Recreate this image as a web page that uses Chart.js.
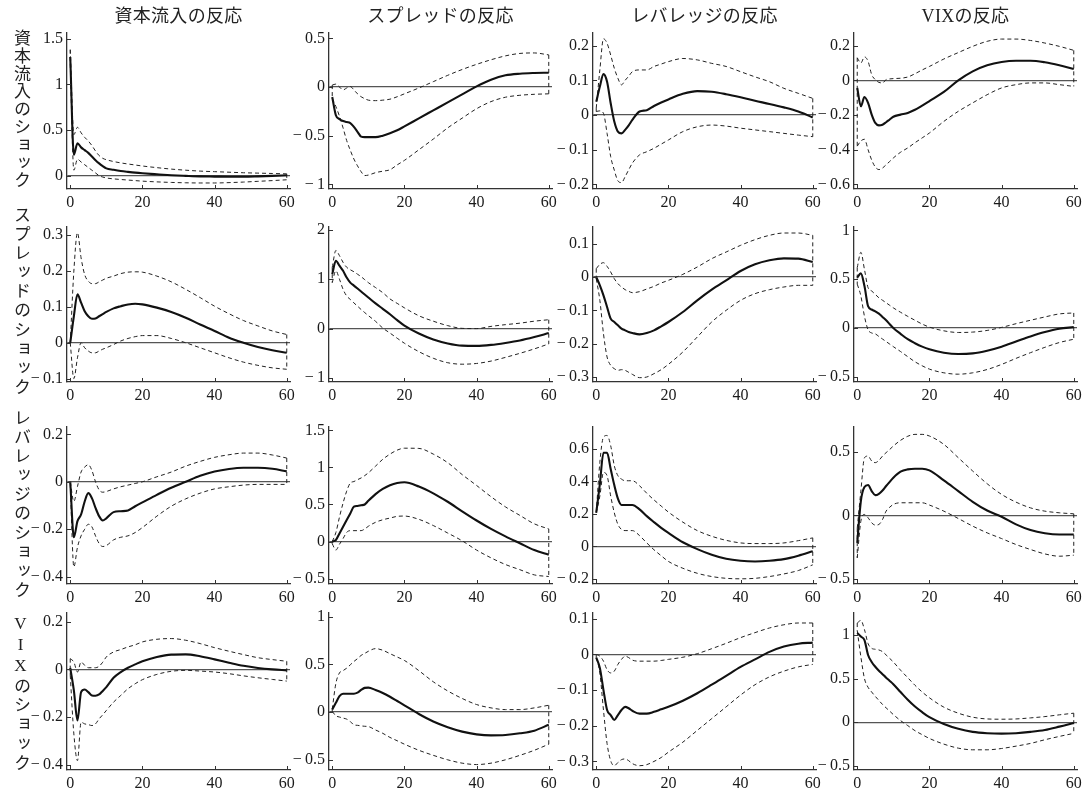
<!DOCTYPE html>
<html><head><meta charset="utf-8">
<script src="https://cdn.jsdelivr.net/npm/chart.js@4/dist/chart.umd.min.js"></script>
<style>
body{margin:0;background:#fff;width:1090px;height:790px;overflow:hidden;position:relative;font-family:"Liberation Serif","Noto Sans CJK JP",serif;color:#222}
canvas{position:absolute}
.ct{position:absolute;font-size:18px;line-height:20px;white-space:nowrap;transform:translateX(-50%);letter-spacing:0.3px;top:6px}
.rl{position:absolute;writing-mode:vertical-rl;text-orientation:upright;font-size:17px;line-height:20px;width:20px;left:10px;white-space:nowrap}
</style></head><body>
<script>
// horizons (periods after shock)
const H=[0,1,2,3,4,5,6,7,8,9,10,12,14,16,18,20,24,28,32,36,40,44,48,52,56,60];
const xTicks=[0,20,40,60];
const colTitles=['資本流入の反応','スプレッドの反応','レバレッジの反応','VIXの反応'];
const rowTitles=['資本流入のショック','スプレッドのショック','レバレッジのショック','VIXのショック'];

// row 1: capital inflow shock
const r11=[1.30,0.23,0.355,0.31,0.28,0.25,0.21,0.17,0.135,0.105,0.08,0.065,0.052,0.042,0.033,0.026,0.015,0.005,-0.002,-0.008,-0.01,-0.012,-0.012,-0.008,-0.002,0.005];
const u11=[1.38,0.45,0.53,0.47,0.42,0.38,0.33,0.27,0.22,0.19,0.175,0.155,0.14,0.128,0.117,0.106,0.088,0.072,0.06,0.05,0.044,0.038,0.032,0.028,0.024,0.02];
const l11=[1.22,0.06,0.18,0.15,0.12,0.09,0.06,0.03,0.0,-0.015,-0.025,-0.035,-0.042,-0.048,-0.054,-0.06,-0.068,-0.074,-0.078,-0.08,-0.08,-0.076,-0.07,-0.062,-0.054,-0.045];
const r12=[-0.103,-0.29,-0.33,-0.35,-0.36,-0.37,-0.41,-0.46,-0.51,-0.515,-0.515,-0.515,-0.5,-0.475,-0.445,-0.405,-0.322,-0.24,-0.158,-0.075,0.007,0.075,0.12,0.137,0.144,0.147];
const u12=[0.02,0.03,0.0,-0.03,-0.01,0.005,-0.03,-0.07,-0.1,-0.12,-0.135,-0.14,-0.135,-0.125,-0.1,-0.07,-0.01,0.055,0.12,0.18,0.233,0.28,0.32,0.345,0.35,0.33];
const l12=[-0.12,-0.2,-0.3,-0.42,-0.55,-0.65,-0.74,-0.81,-0.87,-0.91,-0.905,-0.88,-0.865,-0.85,-0.8,-0.754,-0.645,-0.535,-0.42,-0.32,-0.223,-0.15,-0.105,-0.085,-0.075,-0.07];
const r13=[0.038,0.082,0.118,0.096,0.034,-0.019,-0.048,-0.053,-0.043,-0.03,-0.014,0.01,0.014,0.026,0.036,0.045,0.061,0.069,0.067,0.06,0.051,0.041,0.032,0.022,0.01,-0.007];
const u13=[0.02,0.13,0.22,0.207,0.173,0.135,0.106,0.087,0.1,0.112,0.125,0.13,0.13,0.14,0.147,0.154,0.163,0.159,0.149,0.14,0.125,0.11,0.096,0.077,0.0625,0.048];
const l13=[0.01,0.012,0.005,-0.053,-0.12,-0.159,-0.19,-0.195,-0.178,-0.158,-0.139,-0.115,-0.106,-0.096,-0.084,-0.072,-0.048,-0.034,-0.029,-0.032,-0.038,-0.043,-0.048,-0.053,-0.058,-0.0625];
const r14=[-0.044,-0.15,-0.096,-0.13,-0.198,-0.246,-0.26,-0.256,-0.242,-0.226,-0.21,-0.198,-0.188,-0.17,-0.146,-0.12,-0.067,0.0,0.052,0.087,0.106,0.113,0.113,0.104,0.087,0.065];
const u14=[0.13,0.1,0.135,0.11,0.033,0.004,-0.012,-0.015,0.004,0.008,0.01,0.012,0.019,0.038,0.06,0.08,0.123,0.16,0.196,0.225,0.238,0.238,0.23,0.215,0.196,0.173];
const l14=[-0.38,-0.35,-0.34,-0.4,-0.46,-0.5,-0.515,-0.506,-0.487,-0.468,-0.448,-0.415,-0.39,-0.36,-0.332,-0.304,-0.237,-0.179,-0.13,-0.083,-0.044,-0.025,-0.015,-0.015,-0.025,-0.035];

// row 2: spread shock
const r21=[0,0.074,0.135,0.112,0.088,0.074,0.067,0.068,0.074,0.08,0.086,0.096,0.102,0.107,0.109,0.107,0.098,0.086,0.07,0.051,0.033,0.014,0.0,-0.012,-0.021,-0.028];
const u21=[0.0,0.2,0.307,0.237,0.19,0.172,0.165,0.165,0.17,0.175,0.18,0.186,0.193,0.197,0.198,0.197,0.186,0.17,0.149,0.126,0.102,0.081,0.062,0.047,0.033,0.023];
const l21=[0.0,-0.1,-0.042,0.0,-0.014,-0.023,-0.028,-0.028,-0.023,-0.018,-0.014,-0.005,0.005,0.012,0.017,0.02,0.02,0.012,0.0,-0.014,-0.028,-0.042,-0.054,-0.063,-0.07,-0.074];
const r22=[1.10,1.373,1.272,1.17,1.033,0.93,0.87,0.81,0.75,0.69,0.63,0.51,0.40,0.29,0.17,0.06,-0.1,-0.22,-0.3,-0.345,-0.35,-0.33,-0.29,-0.24,-0.17,-0.09];
const u22=[1.24,1.58,1.475,1.34,1.24,1.19,1.15,1.1,1.05,0.99,0.93,0.83,0.727,0.60,0.51,0.42,0.26,0.15,0.06,0.005,0.0,0.045,0.08,0.11,0.15,0.18];
const l22=[0.93,1.17,1.0,0.795,0.66,0.59,0.52,0.454,0.386,0.324,0.263,0.147,0.011,-0.09,-0.195,-0.296,-0.466,-0.6,-0.69,-0.72,-0.705,-0.657,-0.582,-0.5,-0.41,-0.31];
const r23=[0,-0.025,-0.055,-0.09,-0.125,-0.135,-0.145,-0.155,-0.16,-0.165,-0.168,-0.172,-0.168,-0.16,-0.148,-0.135,-0.105,-0.07,-0.038,-0.01,0.018,0.038,0.05,0.056,0.055,0.045];
const u23=[0.025,0.038,0.043,0.032,0.015,-0.005,-0.02,-0.03,-0.038,-0.043,-0.047,-0.044,-0.036,-0.028,-0.018,-0.01,0.008,0.03,0.055,0.075,0.095,0.112,0.125,0.132,0.132,0.125];
const l23=[-0.005,-0.07,-0.17,-0.24,-0.265,-0.275,-0.28,-0.278,-0.28,-0.286,-0.292,-0.302,-0.3,-0.29,-0.278,-0.262,-0.225,-0.18,-0.135,-0.1,-0.07,-0.05,-0.038,-0.03,-0.025,-0.025];
const r24=[0.517,0.56,0.43,0.224,0.19,0.172,0.148,0.114,0.08,0.04,0.0,-0.059,-0.114,-0.155,-0.19,-0.217,-0.252,-0.266,-0.259,-0.231,-0.19,-0.138,-0.086,-0.041,-0.007,0.01];
const u24=[0.62,0.776,0.6,0.414,0.38,0.345,0.31,0.285,0.259,0.233,0.207,0.162,0.12,0.08,0.041,0.01,-0.028,-0.045,-0.041,-0.024,0.007,0.045,0.08,0.114,0.145,0.155];
const l24=[0.45,0.33,0.12,-0.017,-0.05,-0.059,-0.086,-0.112,-0.138,-0.164,-0.19,-0.24,-0.293,-0.345,-0.386,-0.42,-0.458,-0.472,-0.458,-0.424,-0.372,-0.31,-0.252,-0.197,-0.148,-0.114];

// row 3: leverage shock
const r31=[0,-0.234,-0.166,-0.138,-0.083,-0.048,-0.069,-0.11,-0.145,-0.163,-0.154,-0.128,-0.124,-0.121,-0.103,-0.087,-0.055,-0.025,0.0,0.025,0.043,0.054,0.059,0.059,0.055,0.044];
const u31=[0,-0.083,-0.02,0.041,0.062,0.072,0.048,0.0,-0.034,-0.044,-0.041,-0.03,-0.021,-0.014,-0.007,0.0,0.021,0.041,0.066,0.086,0.103,0.114,0.121,0.121,0.113,0.1];
const l31=[-0.01,-0.359,-0.276,-0.228,-0.2,-0.179,-0.19,-0.228,-0.26,-0.273,-0.269,-0.245,-0.234,-0.228,-0.214,-0.193,-0.145,-0.103,-0.072,-0.048,-0.03,-0.021,-0.014,-0.011,-0.011,-0.011];
const r32=[0.0,0.02,0.11,0.2,0.29,0.38,0.47,0.48,0.49,0.5,0.55,0.64,0.71,0.76,0.79,0.8,0.743,0.651,0.537,0.408,0.284,0.17,0.069,-0.023,-0.115,-0.179];
const u32=[0.0,0.12,0.33,0.52,0.68,0.79,0.81,0.835,0.858,0.89,0.927,1.018,1.11,1.18,1.234,1.26,1.257,1.18,1.064,0.904,0.757,0.605,0.468,0.353,0.239,0.17];
const l32=[-0.03,-0.115,-0.037,0.04,0.124,0.147,0.147,0.147,0.147,0.17,0.206,0.26,0.294,0.317,0.34,0.344,0.3,0.216,0.115,0.01,-0.115,-0.22,-0.31,-0.38,-0.45,-0.472];
const r33=[0.207,0.383,0.576,0.576,0.476,0.377,0.294,0.255,0.255,0.255,0.255,0.228,0.186,0.149,0.114,0.083,0.025,-0.017,-0.052,-0.077,-0.089,-0.093,-0.089,-0.079,-0.058,-0.031];
const u33=[0.207,0.518,0.673,0.683,0.62,0.497,0.435,0.414,0.404,0.404,0.404,0.373,0.327,0.286,0.248,0.211,0.149,0.097,0.062,0.037,0.021,0.017,0.017,0.021,0.035,0.052];
const l33=[0.207,0.31,0.455,0.435,0.31,0.207,0.135,0.104,0.097,0.097,0.097,0.066,0.021,-0.021,-0.058,-0.093,-0.135,-0.166,-0.186,-0.197,-0.2,-0.197,-0.186,-0.17,-0.149,-0.114];
const r34=[-0.216,0.113,0.224,0.24,0.192,0.16,0.171,0.197,0.232,0.265,0.297,0.345,0.363,0.368,0.368,0.355,0.276,0.192,0.108,0.039,-0.01,-0.07,-0.115,-0.14,-0.15,-0.15];
const u34=[-0.1,0.192,0.455,0.468,0.429,0.416,0.434,0.468,0.495,0.52,0.547,0.592,0.624,0.639,0.639,0.626,0.56,0.455,0.35,0.25,0.166,0.105,0.06,0.034,0.021,0.013];
const l34=[-0.334,-0.045,0.008,-0.018,-0.058,-0.076,-0.071,-0.032,0.034,0.065,0.087,0.1,0.1,0.1,0.1,0.082,0.034,-0.024,-0.084,-0.137,-0.182,-0.229,-0.268,-0.303,-0.321,-0.313];

// row 4: VIX shock
const r41=[0.006,-0.088,-0.214,-0.095,-0.084,-0.095,-0.109,-0.11,-0.105,-0.09,-0.074,-0.035,-0.011,0.007,0.021,0.034,0.052,0.062,0.063,0.055,0.042,0.028,0.015,0.006,0.0,-0.004];
const u41=[0.045,0.031,-0.011,0.031,0.017,0.007,0.007,0.007,0.013,0.03,0.052,0.073,0.083,0.094,0.103,0.115,0.126,0.129,0.122,0.108,0.091,0.076,0.062,0.049,0.041,0.034];
const l41=[-0.025,-0.27,-0.382,-0.221,-0.228,-0.231,-0.235,-0.228,-0.207,-0.19,-0.172,-0.137,-0.109,-0.081,-0.06,-0.043,-0.021,-0.008,-0.004,-0.007,-0.011,-0.018,-0.027,-0.035,-0.042,-0.049];
const r42=[0.025,0.096,0.167,0.192,0.192,0.192,0.192,0.203,0.231,0.253,0.256,0.231,0.2,0.16,0.115,0.07,-0.021,-0.1,-0.16,-0.206,-0.235,-0.246,-0.242,-0.224,-0.196,-0.135];
const u42=[0.03,0.3,0.41,0.434,0.46,0.495,0.53,0.56,0.594,0.615,0.637,0.665,0.648,0.612,0.577,0.541,0.434,0.317,0.221,0.142,0.078,0.043,0.025,0.025,0.043,0.071];
const l42=[0.007,-0.04,-0.053,-0.064,-0.075,-0.1,-0.135,-0.14,-0.146,-0.15,-0.153,-0.189,-0.224,-0.267,-0.302,-0.338,-0.402,-0.455,-0.502,-0.537,-0.552,-0.537,-0.502,-0.455,-0.402,-0.338];
const r43=[-0.009,-0.038,-0.1,-0.156,-0.17,-0.184,-0.17,-0.156,-0.147,-0.151,-0.158,-0.166,-0.166,-0.161,-0.154,-0.147,-0.13,-0.109,-0.085,-0.06,-0.035,-0.014,0.007,0.022,0.03,0.033];
const u43=[0.0,-0.005,-0.019,-0.043,-0.052,-0.047,-0.028,-0.014,-0.005,-0.009,-0.016,-0.019,-0.019,-0.019,-0.017,-0.014,-0.008,0.002,0.016,0.031,0.047,0.061,0.074,0.083,0.088,0.088];
const l43=[-0.009,-0.052,-0.156,-0.25,-0.298,-0.312,-0.303,-0.295,-0.293,-0.298,-0.306,-0.312,-0.309,-0.3,-0.289,-0.274,-0.246,-0.213,-0.18,-0.147,-0.114,-0.085,-0.063,-0.047,-0.035,-0.028];
const r44=[1.02,0.98,0.94,0.77,0.69,0.635,0.59,0.55,0.51,0.473,0.435,0.346,0.258,0.18,0.115,0.058,-0.02,-0.075,-0.11,-0.125,-0.13,-0.125,-0.11,-0.088,-0.05,-0.008];
const u44=[1.135,1.165,1.06,0.9,0.846,0.835,0.827,0.808,0.77,0.73,0.69,0.596,0.51,0.423,0.346,0.28,0.173,0.104,0.058,0.038,0.035,0.038,0.05,0.065,0.085,0.104];
const l44=[1.05,0.75,0.5,0.4,0.346,0.296,0.25,0.204,0.165,0.127,0.088,0.019,-0.038,-0.096,-0.142,-0.185,-0.25,-0.296,-0.315,-0.315,-0.3,-0.273,-0.242,-0.2,-0.162,-0.127];

// y tick labels per panel
const yt11=[0,0.5,1,1.5], yt12=[-1,-0.5,0,0.5], yt13=[-0.2,-0.1,0,0.1,0.2], yt14=[-0.6,-0.4,-0.2,0,0.2];
const yt21=[-0.1,0,0.1,0.2,0.3], yt22=[-1,0,1,2], yt23=[-0.3,-0.2,-0.1,0,0.1], yt24=[-0.5,0,0.5,1];
const yt31=[-0.4,-0.2,0,0.2], yt32=[-0.5,0,0.5,1,1.5], yt33=[-0.2,0,0.2,0.4,0.6], yt34=[-0.5,0,0.5];
const yt41=[-0.4,-0.2,0,0.2], yt42=[-0.5,0,0.5,1], yt43=[-0.3,-0.2,-0.1,0,0.1], yt44=[-0.5,0,0.5,1];
// y axis limits per panel
const ylim11=[-0.146,1.563], ylim12=[-1.048,0.555], ylim13=[-0.2135,0.2366], ylim14=[-0.627,0.273];
const ylim21=[-0.1095,0.323], ylim22=[-1.08,2.055], ylim23=[-0.315,0.15], ylim24=[-0.552,1.035];
const ylim31=[-0.431,0.231], ylim32=[-0.573,1.546], ylim33=[-0.232,0.735], ylim34=[-0.54,0.697];
const ylim41=[-0.421,0.236], ylim42=[-0.609,1.039], ylim43=[-0.324,0.116], ylim44=[-0.546,1.25];

const panels=[
 [r11,u11,l11,yt11,ylim11],[r12,u12,l12,yt12,ylim12],[r13,u13,l13,yt13,ylim13],[r14,u14,l14,yt14,ylim14],
 [r21,u21,l21,yt21,ylim21],[r22,u22,l22,yt22,ylim22],[r23,u23,l23,yt23,ylim23],[r24,u24,l24,yt24,ylim24],
 [r31,u31,l31,yt31,ylim31],[r32,u32,l32,yt32,ylim32],[r33,u33,l33,yt33,ylim33],[r34,u34,l34,yt34,ylim34],
 [r41,u41,l41,yt41,ylim41],[r42,u42,l42,yt42,ylim42],[r43,u43,l43,yt43,ylim43],[r44,u44,l44,yt44,ylim44]
];

// layout
const colLeft=[67,329,593,854], plotW=223;
const rowTop=[33,227,427,613], rowBottom=[189,382,584,770];
const YW=56, PT=14, PR=14, XH=26;
const FONT='"Liberation Serif", serif';

const innerTicks={id:'innerTicks',afterDraw(c){
  const {ctx,chartArea:a,scales:{x,y}}=c;
  ctx.save();ctx.strokeStyle='#333';ctx.lineWidth=1;ctx.beginPath();
  y.ticks.forEach(t=>{const py=Math.round(y.getPixelForValue(t.value))+0.5;ctx.moveTo(a.left,py);ctx.lineTo(a.left+4,py);});
  x.ticks.forEach(t=>{const px=Math.round(x.getPixelForValue(t.value))+0.5;ctx.moveTo(px,a.bottom);ctx.lineTo(px,a.bottom-4);});
  ctx.stroke();ctx.restore();}};

function fmt(v){const a=Math.abs(v);const s=String(+a.toFixed(3));return v<0?'\u2212\u2009'+s:s;}
const pts=a=>a.map((v,i)=>({x:H[i],y:v}));

panels.forEach((p,idx)=>{
  const [r,u,l,yt,lim]=p;
  const row=Math.floor(idx/4), col=idx%4;
  const plotH=rowBottom[row]-rowTop[row];
  const cv=document.createElement('canvas');
  const W=YW+plotW+PR, Hh=PT+plotH+XH;
  cv.width=W;cv.height=Hh;
  cv.style.left=(colLeft[col]-YW)+'px';cv.style.top=(rowTop[row]-PT)+'px';
  cv.style.width=W+'px';cv.style.height=Hh+'px';
  document.body.appendChild(cv);
  const last=H.length-1;
  const caps=[{x:0,y:u[0]},{x:0,y:l[0]},{x:30,y:null},{x:60,y:u[last]},{x:60,y:l[last]}];
  new Chart(cv,{type:'line',
    data:{datasets:[
      {data:pts(r),borderColor:'#111',borderWidth:2.1,cubicInterpolationMode:'monotone'},
      {data:pts(u),borderColor:'#222',borderWidth:1,borderDash:[4,3],cubicInterpolationMode:'monotone'},
      {data:pts(l),borderColor:'#222',borderWidth:1,borderDash:[4,3],cubicInterpolationMode:'monotone'},
      {data:caps,borderColor:'#222',borderWidth:1,borderDash:[4,3],spanGaps:false,tension:0}
    ]},
    options:{responsive:false,animation:false,devicePixelRatio:1,
      layout:{padding:{top:PT,right:PR,left:0,bottom:0}},
      elements:{point:{radius:0}},
      plugins:{legend:{display:false},tooltip:{enabled:false},title:{display:false}},
      scales:{
        x:{type:'linear',min:-0.9,max:60.9,
          afterBuildTicks:s=>{s.ticks=xTicks.map(v=>({value:v}));},
          afterFit:s=>{s.height=XH;},
          grid:{display:false,drawTicks:false},
          border:{display:true,color:'#333',width:1.3},
          ticks:{padding:4,color:'#1a1a1a',font:{family:FONT,size:16},maxRotation:0,autoSkip:false,callback:v=>String(v)}},
        y:{type:'linear',min:lim[0],max:lim[1],
          afterBuildTicks:s=>{s.ticks=yt.map(v=>({value:v}));},
          afterFit:s=>{s.width=YW;},
          grid:{drawTicks:false,lineWidth:1.2,color:c=>(c.tick&&c.tick.value===0)?'#555':'rgba(0,0,0,0)'},
          border:{display:true,color:'#333',width:1.3},
          ticks:{padding:4,color:'#1a1a1a',font:{family:FONT,size:16},autoSkip:false,callback:v=>fmt(v)}}
      }},
    plugins:[innerTicks]});
});

colTitles.forEach((t,i)=>{const d=document.createElement('div');d.className='ct';d.textContent=t;d.style.left=(colLeft[i]+plotW/2)+'px';document.body.appendChild(d);});
const rowTopLbl=[29,206,409,614], rowLS=[0.8,2.1,2.1,2.1];
rowTitles.forEach((t,i)=>{const d=document.createElement('div');d.className='rl';d.textContent=t;d.style.top=rowTopLbl[i]+'px';d.style.letterSpacing=rowLS[i]+'px';document.body.appendChild(d);});
</script>
</body></html>
